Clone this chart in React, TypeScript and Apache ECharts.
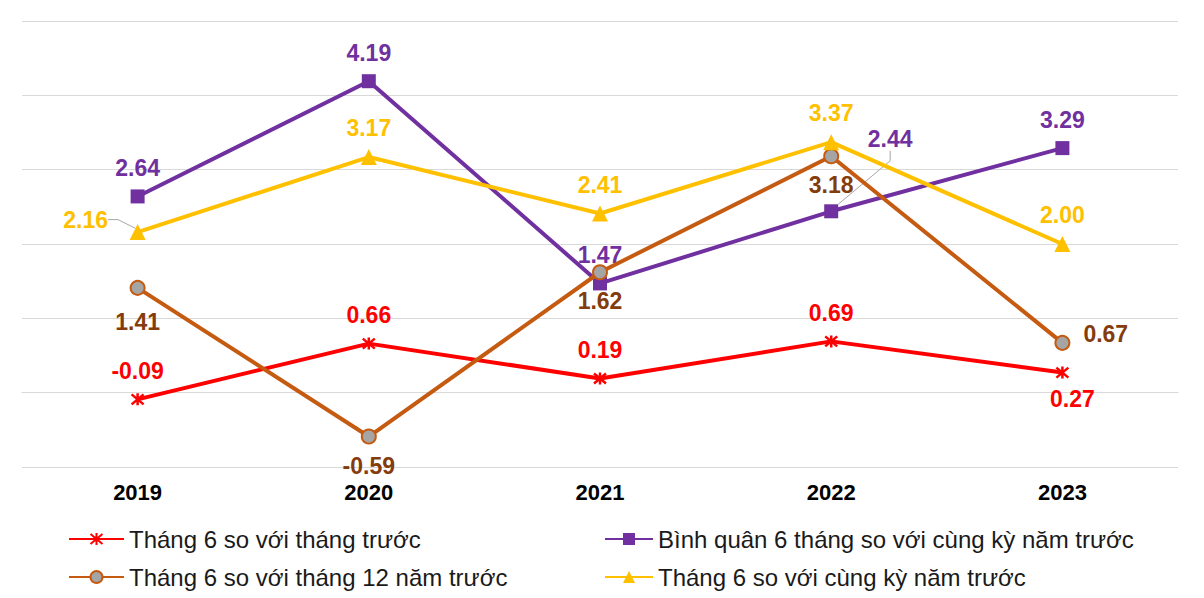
import React, { useEffect, useRef } from "react";
import * as echarts from "echarts";

const years = ["2019", "2020", "2021", "2022", "2023"];
const nameRed = "Tháng 6 so với tháng trước";
const namePurple = "Bình quân 6 tháng so với cùng kỳ năm trước";
const nameBrown = "Tháng 6 so với tháng 12 năm trước";
const nameYellow = "Tháng 6 so với cùng kỳ năm trước";
const redValues = [-0.09, 0.66, 0.19, 0.69, 0.27];
const purpleValues = [2.64, 4.19, 1.47, 2.44, 3.29];
const brownValues = [1.41, -0.59, 1.62, 3.18, 0.67];
const yellowValues = [2.16, 3.17, 2.41, 3.37, 2.0];

const FONT = "'Liberation Sans', Arial, sans-serif";
const RED = "#FF0000";
const PURPLE = "#7030A0";
const BROWN = "#C55A11";
const BROWN_LABEL = "#843C0C";
const YELLOW = "#FFC000";

const starPath = "path://M0,0L10,10M10,0L0,10M5,-1L5,11";

function lbl(color: string, position: string, distance: number) {
  return {
    show: true,
    position,
    distance,
    color,
    fontFamily: FONT,
    fontWeight: "bold",
    fontSize: 23,
    formatter: (p: any) => Number(p.value).toFixed(2),
  };
}

const guide = { show: true, length2: 10, lineStyle: { color: "#A6A6A6", width: 1 } };

export default function App() {
  const ref = useRef<HTMLDivElement>(null);
  useEffect(() => {
    if (!ref.current) return;
    const chart = echarts.init(ref.current, undefined, { renderer: "svg" });
    const legendText = { fontFamily: FONT, fontSize: 24, color: "#1a1a1a" };
    chart.setOption({
      animation: false,
      backgroundColor: "#ffffff",
      grid: { left: 22, right: 26, top: 21, bottom: 131 },
      legend: [
        {
          orient: "vertical",
          left: 68,
          top: 527,
          height: 100,
          padding: 0,
          itemWidth: 55,
          itemHeight: 15,
          itemGap: 14,
          textStyle: legendText,
          data: [nameRed, nameBrown],
        },
        {
          orient: "vertical",
          left: 604,
          top: 527,
          height: 100,
          padding: 0,
          itemWidth: 48,
          itemHeight: 15,
          itemGap: 14,
          textStyle: legendText,
          data: [namePurple, nameYellow],
        },
      ],
      xAxis: {
        type: "category",
        data: years,
        boundaryGap: true,
        axisLine: { show: true, lineStyle: { color: "#D9D9D9", width: 1 } },
        axisTick: { show: false },
        axisLabel: {
          color: "#000",
          fontFamily: FONT,
          fontWeight: "bold",
          fontSize: 22,
          margin: 14,
        },
      },
      yAxis: {
        type: "value",
        min: -1,
        max: 5,
        interval: 1,
        axisLine: { show: false },
        axisTick: { show: false },
        axisLabel: { show: false },
        splitLine: { lineStyle: { color: "#D9D9D9", width: 1 } },
      },
      series: [
        {
          name: nameRed,
          type: "line",
          data: redValues.map((v, i) =>
            i === 4
              ? { value: v, label: { position: "bottom", distance: 8, offset: [10, 0] } }
              : v
          ),
          symbol: starPath,
          symbolSize: 12,
          lineStyle: { color: RED, width: 4 },
          itemStyle: { color: RED, borderColor: RED, borderWidth: 2.5 },
          label: lbl(RED, "top", 9.5),
          emphasis: { disabled: true },
          z: 2,
        },
        {
          name: namePurple,
          type: "line",
          data: purpleValues.map((v, i) =>
            i === 3 ? { value: v, labelLine: guide } : v
          ),
          symbol: "rect",
          symbolSize: 14,
          lineStyle: { color: PURPLE, width: 4 },
          itemStyle: { color: PURPLE },
          label: lbl(PURPLE, "top", 10),
          labelLayout: (p: any) => (p.dataIndex === 3 ? { dx: 59, dy: -43.5 } : {}),
          emphasis: { disabled: true },
          z: 3,
        },
        {
          name: nameBrown,
          type: "line",
          data: brownValues.map((v, i) =>
            i === 0
              ? { value: v, label: { distance: 14.5 } }
              : i === 4
              ? { value: v, label: { position: "right", distance: 13, offset: [0, -9] } }
              : v
          ),
          symbol: "circle",
          symbolSize: 14,
          lineStyle: { color: BROWN, width: 4 },
          itemStyle: { color: "#A5A5A5", borderColor: BROWN, borderWidth: 2 },
          label: lbl(BROWN_LABEL, "bottom", 9.5),
          emphasis: { disabled: true },
          z: 4,
        },
        {
          name: nameYellow,
          type: "line",
          data: yellowValues.map((v, i) =>
            i === 0 ? { value: v, labelLine: guide } : v
          ),
          symbol: "triangle",
          symbolSize: 16,
          lineStyle: { color: YELLOW, width: 4 },
          itemStyle: { color: YELLOW },
          label: lbl(YELLOW, "top", 9.5),
          labelLayout: (p: any) => (p.dataIndex === 0 ? { dx: -52, dy: 16.5 } : {}),
          emphasis: { disabled: true },
          z: 5,
        },
      ],
    });
    return () => chart.dispose();
  }, []);
  return (
    <div
      ref={ref}
      style={{ position: "fixed", left: 0, top: 0, width: 1204, height: 598, background: "#fff" }}
    />
  );
}
